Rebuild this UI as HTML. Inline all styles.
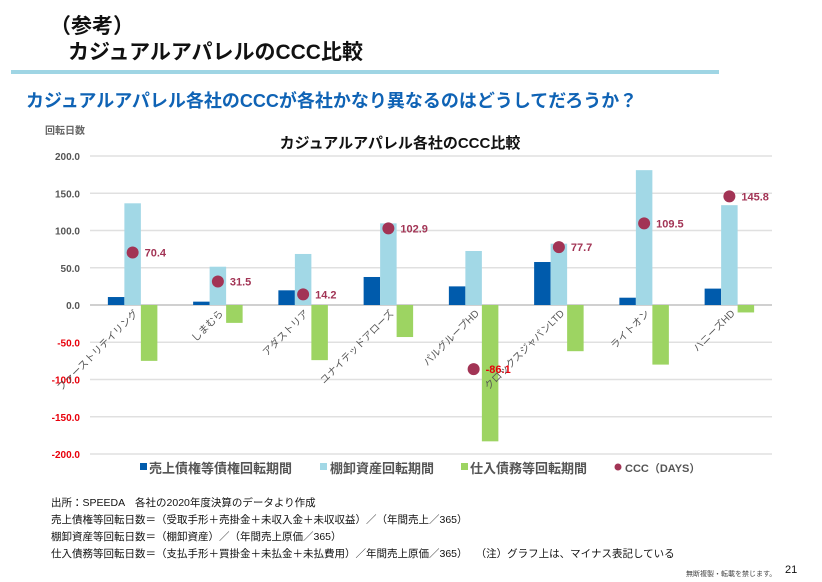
<!DOCTYPE html>
<html><head><meta charset="utf-8"><style>
body{margin:0;width:822px;height:582px;background:#fff;overflow:hidden;font-family:"Liberation Sans","Noto Sans CJK JP",sans-serif;position:relative}
.a{position:absolute;white-space:nowrap}
</style></head><body>
<div class="a" style="left:50px;top:10px;font-size:21px;font-weight:bold;color:#111">（参考）</div>
<div class="a" style="left:68px;top:36px;font-size:21px;font-weight:bold;color:#111">カジュアルアパレルのCCC比較</div>
<div class="a" style="left:11px;top:70px;width:708px;height:4px;background:#9fd5e4"></div>
<div class="a" style="left:26px;top:87px;font-size:18px;font-weight:bold;color:#0f63b5">カジュアルアパレル各社のCCCが各社かなり異なるのはどうしてだろうか？</div>
<svg class="a" style="left:0;top:0" width="822" height="582">
<text x="45" y="134" font-size="10" font-weight="bold" fill="#666">回転日数</text>
<text x="400" y="148" font-size="15" font-weight="bold" fill="#111" text-anchor="middle">カジュアルアパレル各社のCCC比較</text>
<g id="grid"></g><g id="bars"></g><g id="labels"></g>
<g font-size="13" font-weight="bold" fill="#555">
<rect x="140" y="463" width="7" height="7" fill="#005bac"/><text x="149" y="473">売上債権等債権回転期間</text>
<rect x="320" y="463" width="7" height="7" fill="#a2d8e6"/><text x="330" y="473">棚卸資産回転期間</text>
<rect x="461" y="463" width="7" height="7" fill="#9dd462"/><text x="470" y="473">仕入債務等回転期間</text>
<circle cx="618" cy="467" r="3.5" fill="#a23455"/><text x="625" y="472" font-size="11">CCC（DAYS）</text>
</g>
</svg>
<div class="a" style="left:51px;top:495px;font-size:10.5px;line-height:17px;color:#111">出所：SPEEDA　各社の2020年度決算のデータより作成<br>売上債権等回転日数＝（受取手形＋売掛金＋未収入金＋未収収益）／（年間売上／365）<br>棚卸資産等回転日数＝（棚卸資産）／（年間売上原価／365）<br>仕入債務等回転日数＝（支払手形＋買掛金＋未払金＋未払費用）／年間売上原価／365）　 （注）グラフ上は、マイナス表記している</div>
<div class="a" style="left:686px;top:569px;font-size:7px;color:#444">無断複製・転載を禁じます。</div>
<div class="a" style="left:785px;top:564px;font-size:11px;color:#111">21</div>
<script>
const categories=["ファーストリテイリング","しまむら","アダストリア","ユナイテッドアローズ","パルグループHD","クロックスジャパンLTD","ライトオン","ハニーズHD"];
const receivables=[10.7,4.5,19.7,37.6,25,57.7,9.8,22];
const inventory=[136.5,51.4,68.5,109.6,72.5,82.3,181,134];
const payables=[-75,-24,-74,-43,-183,-62,-80,-10];
const ccc=[70.4,31.5,14.2,102.9,-86.1,77.7,109.5,145.8];
const ticks=[200,150,100,50,0,-50,-100,-150,-200];
const NS="http://www.w3.org/2000/svg";
const x0=90,x1=772,yTop=156,yBot=454;
const y=v=>305-(v)*(yBot-yTop)/400;
const bw=(x1-x0)/categories.length;
const cx=i=>x0+bw*(i+0.5);
function mk(t,a,p){const e=document.createElementNS(NS,t);for(const k in a)e.setAttribute(k,a[k]);p.appendChild(e);return e;}
const grid=document.getElementById('grid'),bars=document.getElementById('bars'),labs=document.getElementById('labels');
ticks.forEach(t=>{
 const l=mk('line',{x1:x0,x2:x1,y1:y(t),y2:y(t),stroke:t===0?'#d0d0d0':'#e0e0e0','stroke-width':t===0?2:1.5},grid);
 
 
 const tx=mk('text',{x:80,y:y(t)+4,'text-anchor':'end','font-size':10,'font-weight':'bold',fill:t<0?'#e8000b':'#555'},grid);
 tx.textContent=t.toFixed(1);
 
 
});
const w=16.5;
const series=[[receivables,'#005bac',-1.5],[inventory,'#a2d8e6',-0.5],[payables,'#9dd462',0.5]];
categories.forEach((c,i)=>{
 series.forEach(([arr,col,off])=>{
  const v=arr[i];
  const r=mk('rect',{x:cx(i)+off*w,width:w,y:Math.min(y(v),y(0)),height:Math.abs(y(v)-y(0)),fill:col},bars);
  
  
 });
 const d=mk('circle',{cx:cx(i),cy:y(ccc[i]),r:6,fill:'#a23455'},labs);
 
 
 const t=mk('text',{x:cx(i)+12,y:y(ccc[i])+4,'font-size':11,'font-weight':'bold',fill:ccc[i]<0?'#e8000b':'#a23455'},labs);
 t.textContent=ccc[i].toFixed(1);
 
 
 const cl=mk('text',{x:cx(i)+6,y:314,'text-anchor':'end','font-size':10,fill:'#555',transform:`rotate(-45 ${cx(i)+6} 314)`},labs);
 cl.textContent=c;
 
 
});
</script>
</body></html>
